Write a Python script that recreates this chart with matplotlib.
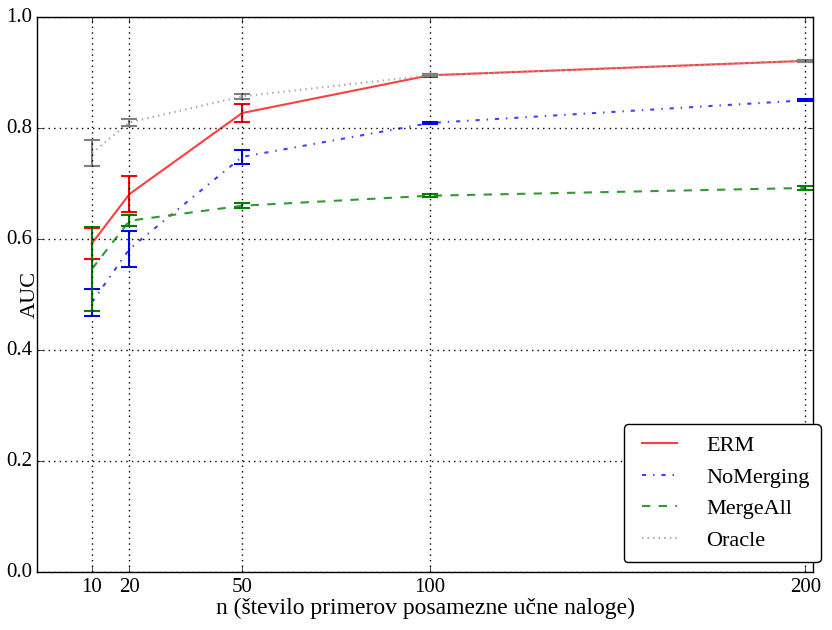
import numpy as np
from matplotlib import pyplot as plt

n = [10, 20, 50, 100, 200]

erm = [0.592, 0.681, 0.827, 0.895, 0.921]
erm_err = [0.028, 0.033, 0.017, 0.003, 0.002]

nomerging = [0.486, 0.582, 0.748, 0.809, 0.850]
nomerging_err = [0.024, 0.032, 0.012, 0.002, 0.002]

mergeall = [0.546, 0.633, 0.660, 0.678, 0.692]
mergeall_err = [0.076, 0.010, 0.005, 0.003, 0.003]

oracle = [0.755, 0.810, 0.857, 0.895, 0.921]
oracle_err = [0.024, 0.006, 0.004, 0.002, 0.002]

series = [
    ("ERM", erm, erm_err, "-", (1.0, 0.25, 0.25), "red"),
    ("NoMerging", nomerging, nomerging_err, "-.", (0.25, 0.25, 1.0), "blue"),
    ("MergeAll", mergeall, mergeall_err, "--", (0.2, 0.6, 0.2), "green"),
    ("Oracle", oracle, oracle_err, ":", (0.65, 0.65, 0.65), "gray"),
]

plt.style.use("classic")
plt.rcParams["font.family"] = ["Liberation Serif", "DejaVu Serif"]
plt.rcParams["font.size"] = 15

fig = plt.figure(figsize=(8.32, 6.3), dpi=100)
ax = fig.add_axes([0.045, 0.092, 0.932, 0.881])

for name, vals, err, ls, lc, ec in series:
    ax.plot(n, vals, linestyle=ls, color=lc, lw=1.5, label=name)
    ax.errorbar(n, vals, yerr=err, fmt="none", ecolor=ec, elinewidth=1.5,
                capsize=6, capthick=1.5)

ax.set_xlim(-4.5, 202)
ax.set_ylim(0.0, 1.0)
ax.set_xticks(n)
ax.set_yticks(np.arange(0, 1.01, 0.2))
ax.tick_params(labelsize=15)
ax.grid(True, color="black", linestyle=":", lw=1)
ax.set_xlabel("n (število primerov posamezne učne naloge)", fontsize=17, labelpad=1)
ax.set_ylabel("AUC", fontsize=16)
ax.yaxis.set_label_coords(0.003, 0.5)
ax.legend(loc="lower right", bbox_to_anchor=(1.01, 0.018), borderaxespad=0,
          fancybox=True, fontsize=16, handlelength=2.2, labelspacing=0.5,
          borderpad=0.5, handletextpad=1.0)

fig.savefig("out.png", dpi=100)
